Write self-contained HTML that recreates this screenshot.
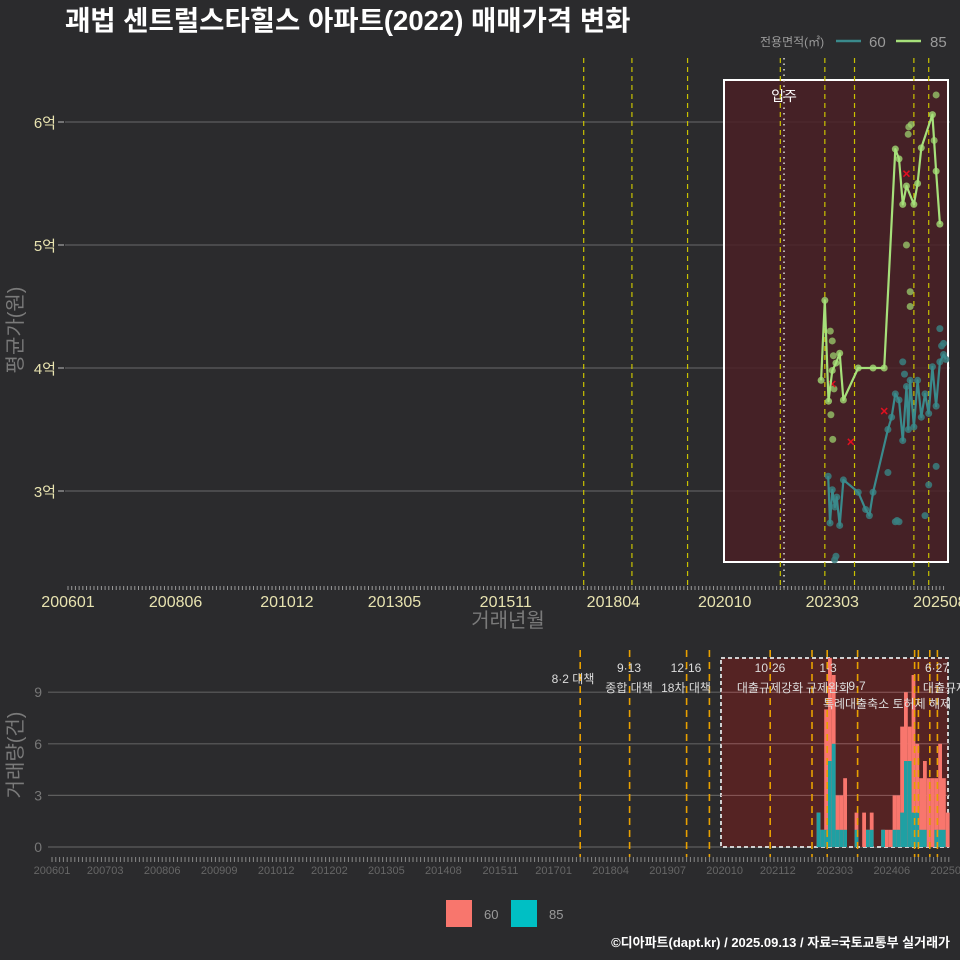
<!DOCTYPE html>
<html><head><meta charset="utf-8">
<style>
html,body{margin:0;padding:0;background:#2b2b2d;}
svg{display:block;font-family:"Liberation Sans","Noto Sans CJK KR",sans-serif;}
</style></head>
<body>
<svg id="c" width="960" height="960" viewBox="0 0 960 960" xmlns="http://www.w3.org/2000/svg">
<rect width="960" height="960" fill="#2b2b2d"/>
<text x="65" y="30" fill="#ffffff" font-size="27.5" font-weight="bold">괘법 센트럴스타힐스 아파트(2022) 매매가격 변화</text>
<g>
<text x="760" y="46" fill="#9a9a9a" font-size="12">전용면적(㎡)</text>
<line x1="836" y1="41" x2="861" y2="41" stroke="#3a8a8c" stroke-width="2.5"/>
<text x="869" y="47" fill="#9a9a9a" font-size="15">60</text>
<line x1="896" y1="41" x2="921" y2="41" stroke="#a6e07a" stroke-width="2.5"/>
<text x="930" y="47" fill="#9a9a9a" font-size="15">85</text>
</g>
<g id="topPanel"></g>
<g id="botPanel"></g>
<text transform="translate(22,330) rotate(-90)" text-anchor="middle" fill="#7a7a7a" font-size="20">평균가(원)</text>
<text x="508" y="627" text-anchor="middle" fill="#7a7a7a" font-size="20">거래년월</text>
<text transform="translate(22,755) rotate(-90)" text-anchor="middle" fill="#7a7a7a" font-size="20">거래량(건)</text>
<g>
<rect x="446" y="900" width="26" height="27" fill="#f8766d"/>
<text x="484" y="919" fill="#9a9a9a" font-size="13">60</text>
<rect x="511" y="900" width="26" height="27" fill="#00bfc4"/>
<text x="549" y="919" fill="#9a9a9a" font-size="13">85</text>
</g>
<text x="950" y="947" text-anchor="end" fill="#ffffff" font-size="13" font-weight="bold">©디아파트(dapt.kr) / 2025.09.13 / 자료=국토교통부 실거래가</text>
</svg>
<script>
// ---- data ----
const priceTicks = [3, 4, 5, 6];
const priceTickLabels = ["3억", "4억", "5억", "6억"];
const topXLabels = ["200601","200806","201012","201305","201511","201804","202010","202303","202508"];
const botXLabels = ["200601","200703","200806","200909","201012","201202","201305","201408","201511","201701","201804","201907","202010","202112","202303","202406","202509"];
const dates85 = ["2022-12-01","2023-01-01","2023-02-01","2023-03-01","2023-04-01","2023-05-01","2023-06-01","2023-10-01","2024-02-01","2024-05-01","2024-08-01","2024-09-01","2024-10-01","2024-11-01","2025-01-01","2025-02-01","2025-03-01","2025-06-01","2025-07-01","2025-08-01"];
const values85 = [3.90,4.55,3.73,3.98,4.04,4.12,3.74,4.0,4.0,4.0,5.78,5.70,5.33,5.48,5.33,5.50,5.79,6.06,5.60,5.17];
const dates60 = ["2023-01-28","2023-02-13","2023-03-01","2023-03-22","2023-04-07","2023-05-01","2023-06-01","2023-10-01","2023-12-01","2024-01-01","2024-02-01","2024-06-01","2024-07-01","2024-08-01","2024-09-01","2024-10-01","2024-11-01","2024-11-16","2024-12-01","2025-01-01","2025-02-01","2025-03-01","2025-04-01","2025-05-01","2025-06-01","2025-07-01","2025-08-01","2025-09-01","2025-09-20"];
const values60 = [3.12,2.74,3.01,2.87,2.95,2.72,3.09,2.99,2.85,2.80,2.99,3.50,3.60,3.79,3.74,3.41,3.85,3.50,3.90,3.52,3.90,3.60,3.79,3.63,4.01,3.69,4.05,4.11,4.07];
const dots85Dates = ["2023-02-15","2023-03-01","2023-03-10","2023-02-20","2023-03-05","2023-03-15","2024-11-01","2024-12-01","2024-12-01","2024-11-15","2024-11-20","2024-12-10","2025-07-01","2025-06-15"];
const dots85Values = [4.30,4.22,4.10,3.62,3.42,3.83,5.00,4.62,4.50,5.90,5.96,5.98,6.22,5.85];
const dots60Dates = ["2023-03-20","2023-04-01","2024-06-01","2024-08-01","2024-08-15","2024-09-01","2024-10-01","2025-04-01","2025-05-01","2025-07-01","2025-08-01","2025-09-01","2025-08-15","2024-10-15"];
const dots60Values = [2.44,2.47,3.15,2.75,2.76,2.75,4.05,2.80,3.05,3.20,4.32,4.20,4.18,3.95];
const crossDates = ["2023-08-01","2024-05-01","2024-11-01","2023-03-01"];
const crossValues = [3.40,3.65,5.58,3.87];
const salesMonths = ["2022-11","2022-12","2023-01","2023-02","2023-03","2023-04","2023-05","2023-06","2023-07","2023-08","2023-09","2023-10","2023-11","2023-12","2024-01","2024-02","2024-03","2024-04","2024-05","2024-06","2024-07","2024-08","2024-09","2024-10","2024-11","2024-12","2025-01","2025-02","2025-03","2025-04","2025-05","2025-06","2025-07","2025-08","2025-09"];
const sales60 = [0,0,7,6,4,2,2,3,0,0,1,0,2,0,1,0,0,0,1,1,2,2,5,4,2,8,4,3,4,4,4,3,5,3,2];
const sales85 = [2,1,1,5,6,1,1,1,0,0,1,0,0,1,1,0,0,1,0,0,1,1,2,5,5,2,2,1,1,0,0,1,1,1,0];
const topVLines = ["2017-08","2018-09","2019-12","2022-01","2023-01","2023-09","2025-01","2025-05"];
const botVLines = ["2017-08","2018-09","2019-12","2020-06","2021-10","2022-09","2023-01","2023-09","2024-12","2025-01","2025-04","2025-06"];
const volTicks = [0,3,6,9];
const notes = [["8·2 대책","",573],["9·13","종합 대책",629],["12·16","18차 대책",686],["10·26","대출규제강화",770],["1·3","규제완화",828],["6·27","대출규제",937]];

// ---- helpers ----
const NS = "http://www.w3.org/2000/svg";
function mk(tag, attrs, parent){const e=document.createElementNS(NS,tag);for(const k in attrs)e.setAttribute(k,attrs[k]);parent.appendChild(e);return e;}
function monthIdx(s){const p=s.split("-");const y=+p[0],m=+p[1],d=p[2]?+p[2]:1;return (y-2006)*12+(m-1)+(d-1)/30;}
function ymIdx(s){return (+s.slice(0,4)-2006)*12+(+s.slice(4,6)-1);}
const xTop = m => 68 + m*3.71;
const yTop = v => 368 - (v-4)*123;
const xBot = m => 52 + m*3.8;
const yBot = v => 847 - v*17.2;

// ---- top panel ----
const tg = document.getElementById("topPanel");
priceTicks.forEach((t,i)=>{
  const l=mk("line",{x1:65,x2:950,y1:yTop(t),y2:yTop(t),stroke:"#6a6a6a","stroke-width":1},tg);
  
  
  const tk=mk("line",{x1:58,x2:64,y1:yTop(t),y2:yTop(t),stroke:"#bbb"},tg);
  
  
  const tx=mk("text",{x:56,y:yTop(t)+6,"text-anchor":"end",fill:"#e8e3b0","font-size":15},tg);
  tx.textContent=priceTickLabels[i];
  
  
});
const box=mk("rect",{x:724,y:80,width:224,height:482,fill:"#4a2026","fill-opacity":0.85,stroke:"#ffffff","stroke-width":2},tg);


topVLines.forEach(d=>{
  const x=xTop(monthIdx(d));
  const l=mk("line",{x1:x,x2:x,y1:58,y2:590,stroke:"#c9c200","stroke-width":1.2,"stroke-dasharray":"5,4"},tg);
  
  
});
const mv=mk("line",{x1:784,x2:784,y1:58,y2:590,stroke:"#dddddd","stroke-width":1.5,"stroke-dasharray":"1.5,4"},tg);


const mvt=mk("text",{x:784,y:101,"text-anchor":"middle",fill:"#ffffff","font-size":14},tg);
mvt.textContent="입주";


dots85Dates.forEach((d,i)=>{
  const c=mk("circle",{cx:xTop(monthIdx(d)),cy:yTop(dots85Values[i]),r:3.5,fill:"#9ccf6e","fill-opacity":0.75},tg);
  
  
});
dots60Dates.forEach((d,i)=>{
  const c=mk("circle",{cx:xTop(monthIdx(d)),cy:yTop(dots60Values[i]),r:3.5,fill:"#3a7f80","fill-opacity":0.85},tg);
  
  
});
crossDates.forEach((d,i)=>{
  const x=xTop(monthIdx(d)),y=yTop(crossValues[i]);
  const p=mk("path",{d:`M${x-3},${y-3}L${x+3},${y+3}M${x-3},${y+3}L${x+3},${y-3}`,stroke:"#e01020","stroke-width":1.5},tg);
  
  
});
function series(dates,vals,col,dcol,name){
  const pts=dates.map((d,i)=>xTop(monthIdx(d)).toFixed(1)+","+yTop(vals[i]).toFixed(1)).join(" ");
  dates.forEach((d,i)=>{
    const c=mk("circle",{cx:xTop(monthIdx(d)),cy:yTop(vals[i]),r:3.5,fill:dcol,"fill-opacity":0.85},tg);
    
    
  });
  const pl=mk("polyline",{points:pts,fill:"none",stroke:col,"stroke-width":2.2,"stroke-linejoin":"round"},tg);
  
  
}
series(dates60,values60,"#3a8a8c","#3a7f80","series-60");
series(dates85,values85,"#a6e07a","#9ccf6e","series-85");
for(let m=0;m<=236;m++){
  const x=xTop(m);
  const t=mk("line",{x1:x,x2:x,y1:586,y2:590,stroke:"#999","stroke-width":1},tg);
  
  
}
topXLabels.forEach(s=>{
  const t=mk("text",{x:xTop(ymIdx(s)),y:607,"text-anchor":"middle",fill:"#e8e3b0","font-size":16},tg);
  t.textContent=s;
  
  
});

// ---- bottom panel ----
const bg=document.getElementById("botPanel");
volTicks.forEach(t=>{
  const l=mk("line",{x1:48,x2:950,y1:yBot(t),y2:yBot(t),stroke:"#5e5e5e","stroke-width":1.2},bg);
  
  
  const tx=mk("text",{x:42,y:yBot(t)+5,"text-anchor":"end",fill:"#777","font-size":14},bg);
  tx.textContent=t;
  
  
});
const bbox=mk("rect",{x:721,y:658,width:227,height:189,fill:"#5a2222","fill-opacity":0.9,stroke:"#cfcfcf","stroke-width":2,"stroke-dasharray":"4,3"},bg);


volTicks.slice(1).forEach(t=>{
  const l=mk("line",{x1:721,x2:948,y1:yBot(t),y2:yBot(t),stroke:"#8a5a5a","stroke-width":1},bg);
  
  
});
salesMonths.forEach((s,i)=>{
  const x=xBot(monthIdx(s))-3;
  const tot=sales60[i]+sales85[i];
  if(tot>0){
    const r=mk("rect",{x:x,y:yBot(tot),width:3.8,height:tot*17.2,fill:"#f8766d"},bg);
    
    
  }
  if(sales85[i]>0){
    const r=mk("rect",{x:x,y:yBot(sales85[i]),width:3.8,height:sales85[i]*17.2,fill:"#1fa0a3"},bg);
    
    
  }
});
botVLines.forEach(d=>{
  const x=xBot(monthIdx(d));
  const l=mk("line",{x1:x,x2:x,y1:650,y2:857,stroke:"#e8a000","stroke-width":1.6,"stroke-dasharray":"7,5"},bg);
  
  
});
notes.forEach(n=>{
  const a=mk("text",{x:n[2],y:n[1]?672:683,"text-anchor":"middle",fill:"#dddddd","font-size":12},bg);
  a.textContent=n[0];
  
  
  if(n[1]){
    const b=mk("text",{x:n[2]+(n[2]>900?8:0),y:692,"text-anchor":"middle",fill:"#dddddd","font-size":12},bg);
    b.textContent=n[1];
    
    
  }
});
const n97=mk("text",{x:857,y:690,"text-anchor":"middle",fill:"#dddddd","font-size":12},bg);
n97.textContent="9·7";


const n97b=mk("text",{x:887,y:708,"text-anchor":"middle",fill:"#dddddd","font-size":12},bg);
n97b.textContent="특례대출축소 토허제 해제";


for(let m=0;m<=236;m++){
  const x=xBot(m);
  const t=mk("line",{x1:x,x2:x,y1:857,y2:862,stroke:"#888","stroke-width":1},bg);
  
  
}
botXLabels.forEach(s=>{
  const t=mk("text",{x:xBot(ymIdx(s)),y:874,"text-anchor":"middle",fill:"#666","font-size":11},bg);
  t.textContent=s;
  
  
});
</script>
</body></html>
